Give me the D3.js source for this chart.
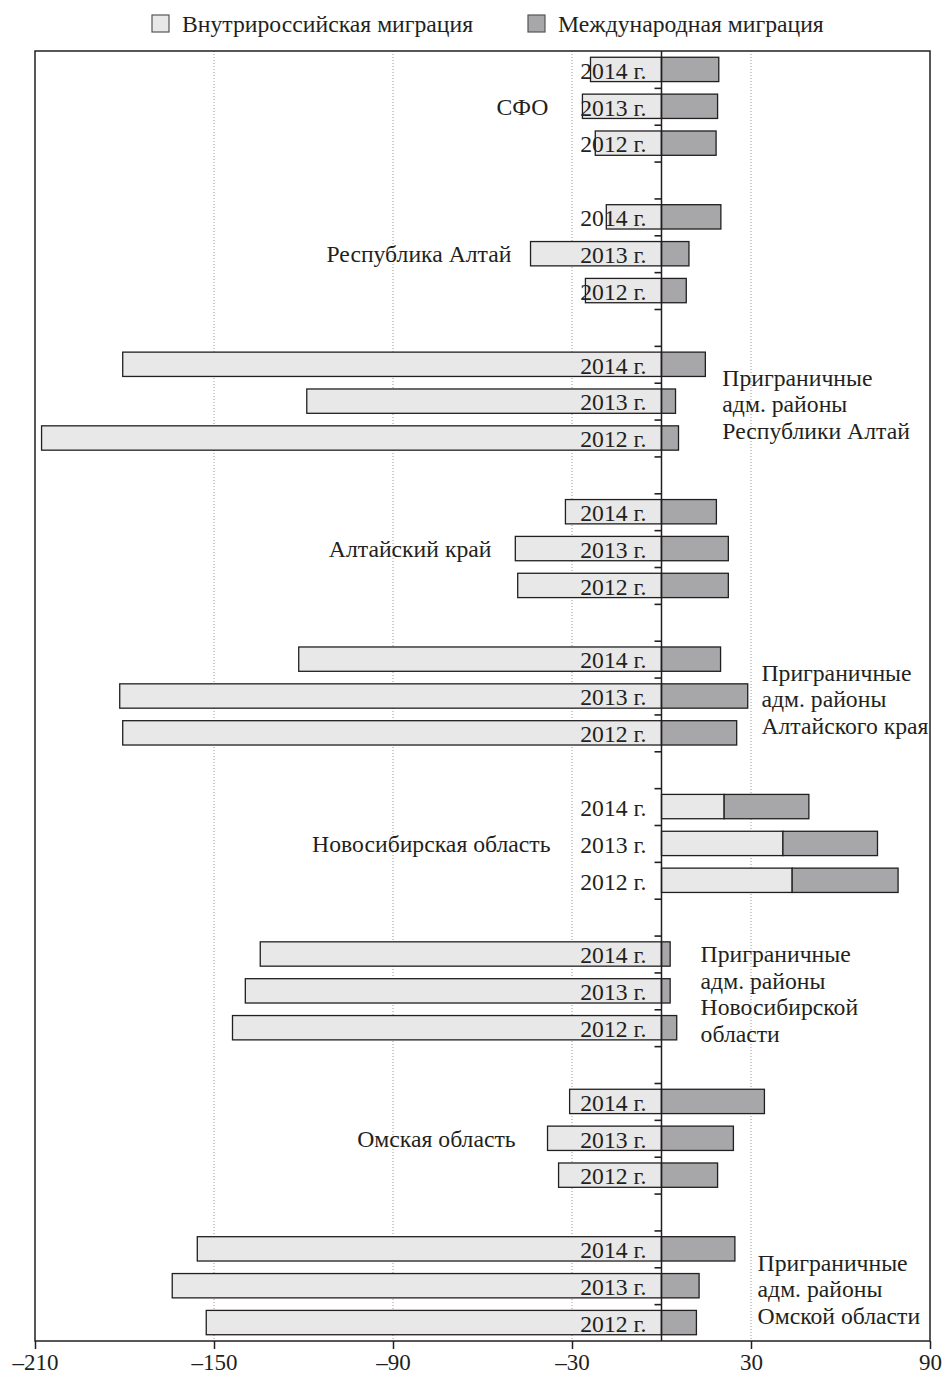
<!DOCTYPE html>
<html>
<head>
<meta charset="utf-8">
<script src="https://cdn.jsdelivr.net/npm/d3@7"></script>
<style>
  body { margin: 0; background: #fff; }
  text { font-family: "Liberation Serif", "Times New Roman", serif; fill: #231f20; }
</style>
</head>
<body>
<div id="chart-area"></div>
<script>
const width = 943,
  height = 1376;

const margin = ({top: 51, right: 13, bottom: 35, left: 35});

// data
const regions = [
  "СФО",
  "Республика Алтай",
  "Приграничные адм. районы Республики Алтай",
  "Алтайский край",
  "Приграничные адм. районы Алтайского края",
  "Новосибирская область",
  "Приграничные адм. районы Новосибирской области",
  "Омская область",
  "Приграничные адм. районы Омской области"
];
const years = ["2014 г.", "2013 г.", "2012 г."];
// Внутрироссийская миграция, per region: 2014, 2013, 2012
const internal = [
  [-23.8, -26.5, -22.2],
  [-18.5, -43.9, -25.5],
  [-180.6, -118.9, -207.8],
  [-32.2, -49.0, -48.2],
  [-121.6, -181.6, -180.6],
  [21.0, 40.7, 43.8],
  [-134.5, -139.5, -143.8],
  [-30.8, -38.2, -34.5],
  [-155.6, -164.0, -152.6]
];
// Международная миграция
const international = [
  [19.2, 18.8, 18.3],
  [19.9, 9.2, 8.3],
  [14.7, 4.7, 5.7],
  [18.4, 22.4, 22.4],
  [19.8, 28.9, 25.2],
  [28.4, 31.7, 35.5],
  [2.9, 2.9, 5.1],
  [34.5, 24.1, 18.8],
  [24.6, 12.6, 11.7]
];
const xTicks = [-210, -150, -90, -30, 30, 90];
const legendItems = ["Внутрироссийская миграция", "Международная миграция"];

// where the region names sit (axis units) and on which side
const labelAt = [-37.9, -50.3, 20.4, -57, 33.5, -37.2, 13.1, -48.9, 32.2];
const labelLines = [
  ["СФО"],
  ["Республика Алтай"],
  ["Приграничные", "адм. районы", "Республики Алтай"],
  ["Алтайский край"],
  ["Приграничные", "адм. районы", "Алтайского края"],
  ["Новосибирская область"],
  ["Приграничные", "адм. районы", "Новосибирской", "области"],
  ["Омская область"],
  ["Приграничные", "адм. районы", "Омской области"]
];

const lightFill = "#e8e8e9", darkFill = "#a7a7a9", ink = "#231f20";
const fontSize = 23.7;

const svg = d3.select("#chart-area")
  .append("svg")
  .attr("width", width)
  .attr("height", height);

// x and y scales
const x = d3.scaleLinear()
  .domain([-210, 90])
  .range([margin.left, width - margin.right]);

// 4 slots per region (3 years + gap), last gap dropped
const slots = [];
regions.forEach((r, g) => {
  years.forEach((y, i) => slots.push(g + "-" + i));
  if (g < regions.length - 1) slots.push("gap" + g);
});
const y = d3.scaleBand()
  .domain(slots)
  .range([margin.top, height - margin.bottom])
  .paddingInner(0.34)
  .paddingOuter(0.17);
const yEdge = d3.scaleLinear()
  .domain([0, slots.length])
  .range([margin.top, height - margin.bottom]);

// gridlines
svg.append("g")
  .selectAll("line")
  .data(xTicks.slice(1, -1))
  .join("line")
  .attr("x1", d => x(d)).attr("x2", d => x(d))
  .attr("y1", margin.top).attr("y2", height - margin.bottom)
  .attr("stroke", "#9a9a9a")
  .attr("stroke-width", 1)
  .attr("stroke-dasharray", "1,2");

// flatten
const rows = [];
regions.forEach((r, g) => years.forEach((yr, i) => {
  rows.push({g, i, key: g + "-" + i, year: yr, inner: internal[g][i], intl: international[g][i]});
}));

const bars = svg.append("g");
// internal migration
bars.selectAll("rect.inner")
  .data(rows)
  .join("rect")
  .attr("class", "inner")
  .attr("x", d => x(Math.min(0, d.inner)))
  .attr("width", d => Math.abs(x(d.inner) - x(0)))
  .attr("y", d => y(d.key))
  .attr("height", y.bandwidth())
  .attr("fill", lightFill)
  .attr("stroke", ink)
  .attr("stroke-width", 1.3);
// international migration, stacked after positive internal
bars.selectAll("rect.intl")
  .data(rows)
  .join("rect")
  .attr("class", "intl")
  .attr("x", d => x(Math.max(0, d.inner)))
  .attr("width", d => x(Math.max(0, d.inner) + d.intl) - x(Math.max(0, d.inner)))
  .attr("y", d => y(d.key))
  .attr("height", y.bandwidth())
  .attr("fill", darkFill)
  .attr("stroke", ink)
  .attr("stroke-width", 1.3);

// zero line with slot ticks
svg.append("g")
  .attr("transform", `translate(${x(0)},0)`)
  .call(d3.axisLeft(yEdge).tickValues(d3.range(1, slots.length)).tickSize(7).tickFormat(""))
  .call(g => g.select(".domain").remove())
  .call(g => g.selectAll(".tick line").attr("stroke", ink).attr("stroke-width", 1.6));
svg.append("line")
  .attr("x1", x(0)).attr("x2", x(0))
  .attr("y1", margin.top).attr("y2", height - margin.bottom)
  .attr("stroke", ink)
  .attr("stroke-width", 1.5);

// year labels
svg.append("g")
  .selectAll("text")
  .data(rows)
  .join("text")
  .attr("x", x(0) - 15)
  .attr("y", d => y(d.key) + y.bandwidth() / 2 + 1)
  .attr("dy", "0.35em")
  .attr("text-anchor", "end")
  .attr("font-size", fontSize)
  .text(d => d.year);

// frame
svg.append("rect")
  .attr("x", margin.left)
  .attr("y", margin.top)
  .attr("width", width - margin.left - margin.right)
  .attr("height", height - margin.top - margin.bottom)
  .attr("fill", "none")
  .attr("stroke", ink)
  .attr("stroke-width", 1.5);

// x axis
svg.append("g")
  .attr("transform", `translate(0,${height - margin.bottom})`)
  .call(d3.axisBottom(x).tickValues(xTicks).tickSize(8).tickPadding(5)
    .tickFormat(d => d < 0 ? "\u2013" + Math.abs(d) : d))
  .call(g => g.select(".domain").remove())
  .call(g => g.selectAll(".tick line").attr("stroke", ink).attr("stroke-width", 1.5))
  .call(g => g.selectAll(".tick text")
    .attr("font-family", "Liberation Serif, serif")
    .attr("font-size", 23)
    .attr("fill", ink));

// region labels
const lineH = 26.5;
svg.append("g")
  .selectAll("text")
  .data(regions)
  .join("text")
  .attr("text-anchor", (d, g) => labelAt[g] < 0 ? "end" : "start")
  .attr("font-size", fontSize)
  .each(function(d, g) {
    const lines = labelLines[g];
    const cy = y(g + "-1") + y.bandwidth() / 2 + (lines.length > 1 ? 3 : 0);
    const t = d3.select(this)
      .attr("x", x(labelAt[g]))
      .attr("y", cy - (lines.length - 1) * lineH / 2);
    lines.forEach((l, k) => {
      t.append("tspan")
        .attr("x", x(labelAt[g]))
        .attr("dy", k === 0 ? "0.35em" : lineH)
        .text(l);
    });
  });

// legend
const legend = svg.append("g");
const legX = [152, 528];
legendItems.forEach((name, k) => {
  legend.append("rect")
    .attr("x", legX[k]).attr("y", 15)
    .attr("width", 17).attr("height", 17)
    .attr("fill", k === 0 ? lightFill : darkFill)
    .attr("stroke", "#555")
    .attr("stroke-width", 1.2);
  legend.append("text")
    .attr("x", legX[k] + 30)
    .attr("y", 24)
    .attr("dy", "0.35em")
    .attr("font-size", fontSize)
    .text(name);
});
</script>
</body>
</html>
